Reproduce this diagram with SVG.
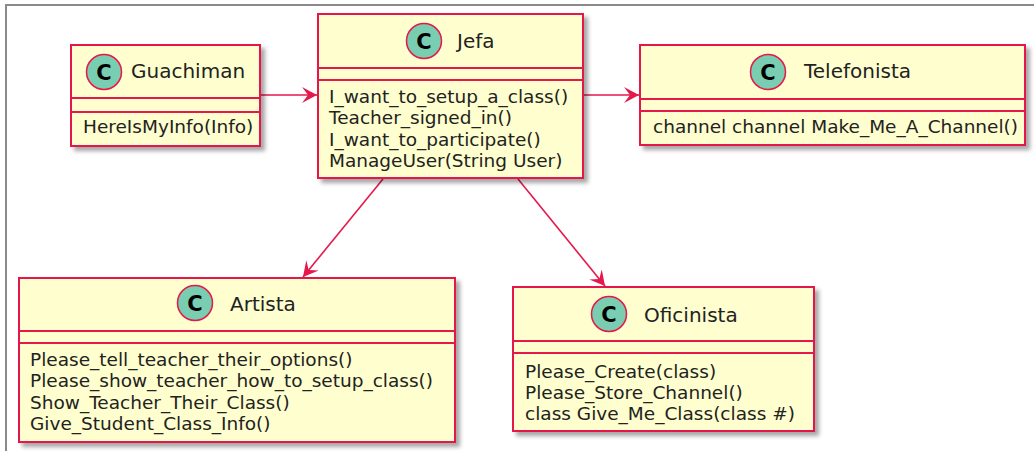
<svg xmlns="http://www.w3.org/2000/svg" width="1034" height="451" viewBox="0 0 1034 451">
<style>
.box{fill:#FEFECE;stroke:#E5184C;stroke-width:2}
.sep{stroke:#E5184C;stroke-width:2}
.circ{fill:#79CDB0;stroke:#E5184C;stroke-width:1.5}
.cl{font-family:"DejaVu Sans",sans-serif;font-size:21px;font-weight:bold;fill:#000;text-anchor:middle}
.title{font-family:"DejaVu Sans",sans-serif;font-size:20px;fill:#222}
.m{font-family:"DejaVu Sans",sans-serif;font-size:18.5px;fill:#222}
.edge{stroke:#E5184C;stroke-width:1.6;fill:none;marker-end:url(#ah)}
.shadow{filter:url(#sh)}
</style>
<defs>
<filter id="sh" x="-10%" y="-10%" width="130%" height="130%">
<feDropShadow dx="4" dy="4" stdDeviation="2" flood-color="#000" flood-opacity="0.35"/>
</filter>
<marker id="ah" markerUnits="userSpaceOnUse" viewBox="0 0 16 16" refX="15" refY="8" markerWidth="16" markerHeight="16" orient="auto">
<path d="M15,8 L0,0 L6,8 L0,16 Z" fill="#E5184C"/>
</marker>
</defs>
<rect width="1034" height="451" fill="#fff"/>
<path d="M6,451 V5 H1034" fill="none" stroke="#8a8a8a" stroke-width="2"/>

<g id="connectors">
<line class="edge" x1="260" y1="95" x2="317" y2="95"/>
<line class="edge" x1="583" y1="95" x2="639" y2="95"/>
<line class="edge" x1="383" y1="179" x2="303" y2="277"/>
<line class="edge" x1="518" y1="179" x2="605" y2="286"/>
</g>

<g id="Guachiman">
<rect class="box shadow" x="71" y="45" width="189" height="101"/>
<line class="sep" x1="71" y1="98" x2="260" y2="98"/>
<line class="sep" x1="71" y1="112" x2="260" y2="112"/>
<circle class="circ" cx="104" cy="72" r="17.5"/>
<text class="cl" x="104" y="79.5">C</text>
<text class="title" x="131" y="78">Guachiman</text>
<text class="m" x="83" y="133">HereIsMyInfo(Info)</text>
</g>

<g id="Jefa">
<rect class="box shadow" x="318" y="14" width="265" height="164"/>
<line class="sep" x1="318" y1="68" x2="583" y2="68"/>
<line class="sep" x1="318" y1="80" x2="583" y2="80"/>
<circle class="circ" cx="424" cy="41" r="17.5"/>
<text class="cl" x="424" y="48.5">C</text>
<text class="title" x="457" y="48">Jefa</text>
<text class="m" x="329" y="103">I_want_to_setup_a_class()</text>
<text class="m" x="329" y="124.3">Teacher_signed_in()</text>
<text class="m" x="329" y="145.6">I_want_to_participate()</text>
<text class="m" x="329" y="167">ManageUser(String User)</text>
</g>

<g id="Telefonista">
<rect class="box shadow" x="640" y="45" width="385" height="100"/>
<line class="sep" x1="640" y1="99" x2="1025" y2="99"/>
<line class="sep" x1="640" y1="111" x2="1025" y2="111"/>
<circle class="circ" cx="768" cy="72" r="17.5"/>
<text class="cl" x="768" y="79.5">C</text>
<text class="title" x="804" y="78">Telefonista</text>
<text class="m" x="653" y="133">channel channel Make_Me_A_Channel()</text>
</g>

<g id="Artista">
<rect class="box shadow" x="19" y="278" width="436" height="164"/>
<line class="sep" x1="19" y1="331" x2="455" y2="331"/>
<line class="sep" x1="19" y1="343" x2="455" y2="343"/>
<circle class="circ" cx="195" cy="303" r="17.5"/>
<text class="cl" x="195" y="310.5">C</text>
<text class="title" x="230" y="311">Artista</text>
<text class="m" x="30" y="366">Please_tell_teacher_their_options()</text>
<text class="m" x="30" y="387.3">Please_show_teacher_how_to_setup_class()</text>
<text class="m" x="30" y="408.7">Show_Teacher_Their_Class()</text>
<text class="m" x="30" y="430">Give_Student_Class_Info()</text>
</g>

<g id="Oficinista">
<rect class="box shadow" x="513" y="287" width="301" height="144"/>
<line class="sep" x1="513" y1="341" x2="814" y2="341"/>
<line class="sep" x1="513" y1="353" x2="814" y2="353"/>
<circle class="circ" cx="609" cy="314" r="17.5"/>
<text class="cl" x="609" y="321.5">C</text>
<text class="title" x="644" y="322">Oficinista</text>
<text class="m" x="525" y="378">Please_Create(class)</text>
<text class="m" x="525" y="399">Please_Store_Channel()</text>
<text class="m" x="525" y="420">class Give_Me_Class(class #)</text>
</g>
</svg>
